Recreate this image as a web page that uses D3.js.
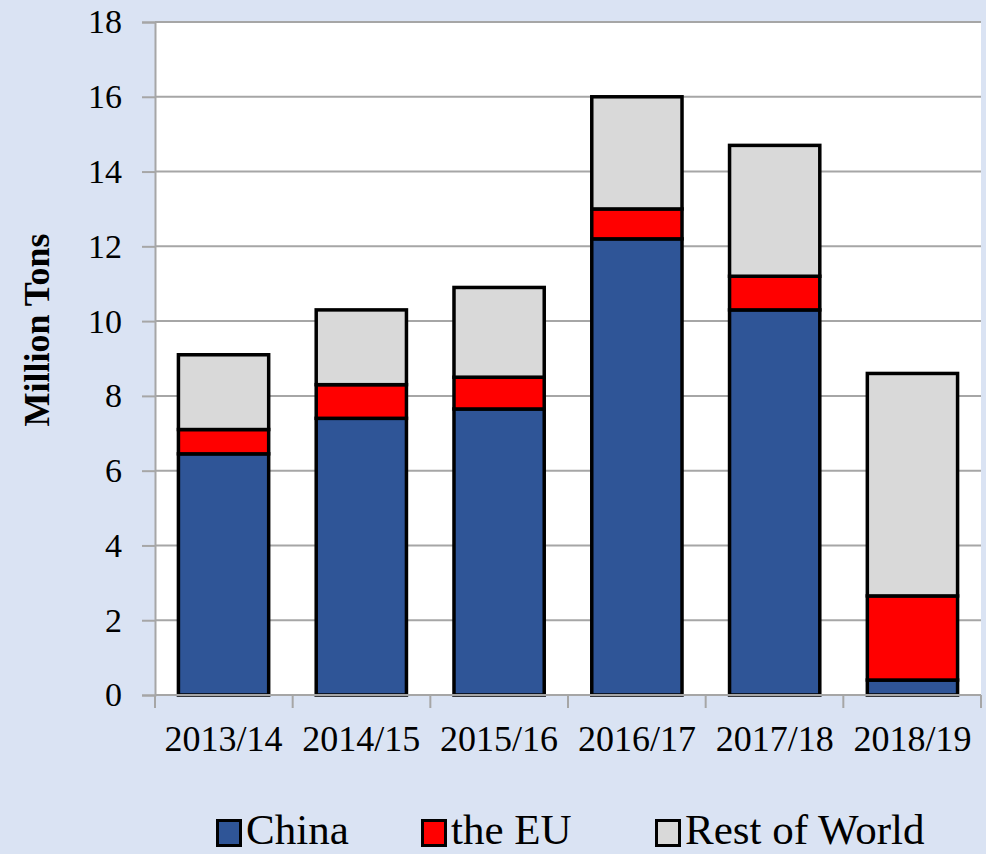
<!DOCTYPE html>
<html>
<head>
<meta charset="utf-8">
<script src="https://d3js.org/d3.v7.min.js"></script>
<style>
	body {
		margin: 0;
		background: #dae3f3;
	}
	svg {
		display: block;
		font-family: "Liberation Serif", "Times New Roman", serif;
	}
</style>
</head>
<body>
<script>

	// data (million tons)
	var seasons = ["2013/14", "2014/15", "2015/16", "2016/17", "2017/18", "2018/19"];
	var china = [6.45, 7.4, 7.65, 12.2, 10.3, 0.4];
	var eu = [0.65, 0.9, 0.85, 0.8, 0.9, 2.25];
	var rest = [2.0, 2.0, 2.4, 3.0, 3.5, 5.95];
	var yTicks = [0, 2, 4, 6, 8, 10, 12, 14, 16, 18];

	var seriesNames = ["China", "the EU", "Rest of World"];
	var colors = ["#2f5597", "#ff0000", "#d9d9d9"];

	var W = 986, H = 854;
	var margin = {top: 22, right: 5, bottom: 159, left: 155};
	var width = W - margin.left - margin.right,
		height = H - margin.top - margin.bottom;

	var svg = d3.select("body").append("svg")
		.attr("width", W)
		.attr("height", H);

	var g = svg.append("g")
		.attr("transform", "translate(" + margin.left + "," + margin.top + ")");

	var x = d3.scaleBand().domain(seasons).range([0, width]).paddingInner(0.345).paddingOuter(0.17);
	var y = d3.scaleLinear().domain([0, 18]).range([height, 0]);

	// plot area
	g.append("rect")
		.attr("width", width)
		.attr("height", height)
		.attr("fill", "#fff");

	// gridlines
	g.selectAll(".grid").data(yTicks.slice(1)).enter().append("line")
		.attr("x1", 0).attr("x2", width)
		.attr("y1", function(d) { return y(d); })
		.attr("y2", function(d) { return y(d); })
		.attr("stroke", "#a6a6a6")
		.attr("stroke-width", 2);

	// stacked bars
	var rows = seasons.map(function(s, i) {
		return {season: s, "China": china[i], "the EU": eu[i], "Rest of World": rest[i]};
	});
	var stacked = d3.stack().keys(seriesNames)(rows);

	g.selectAll(".layer").data(stacked).enter().append("g")
		.attr("fill", function(d, i) { return colors[i]; })
		.selectAll("rect").data(function(d) { return d; }).enter().append("rect")
		.attr("x", function(d) { return x(d.data.season); })
		.attr("y", function(d) { return y(d[1]); })
		.attr("width", x.bandwidth())
		.attr("height", function(d) { return y(d[0]) - y(d[1]); })
		.attr("stroke", "#000")
		.attr("stroke-width", 3.5);

	// y axis
	var yAxis = g.append("g")
		.call(d3.axisLeft(y).tickValues(yTicks).tickSize(13).tickPadding(20));
	yAxis.selectAll("line").attr("stroke", "#a6a6a6").attr("stroke-width", 2);
	yAxis.select(".domain").attr("stroke", "#a6a6a6").attr("stroke-width", 2);
	yAxis.selectAll("text")
		.attr("fill", "#000")
		.style("font-family", "Liberation Serif, serif")
		.style("font-size", "34px");

	// x axis (ticks at band edges)
	var xAxis = g.append("g").attr("transform", "translate(0," + height + ")");
	xAxis.append("line")
		.attr("x1", 0).attr("x2", width)
		.attr("stroke", "#a6a6a6").attr("stroke-width", 2);
	var edges = d3.range(seasons.length + 1).map(function(i) { return i * width / seasons.length; });
	xAxis.selectAll(".xt").data(edges).enter().append("line")
		.attr("x1", function(d) { return d; }).attr("x2", function(d) { return d; })
		.attr("y1", 0).attr("y2", 13)
		.attr("stroke", "#a6a6a6").attr("stroke-width", 2);
	xAxis.selectAll(".xl").data(seasons).enter().append("text")
		.attr("x", function(d) { return x(d) + x.bandwidth() / 2; })
		.attr("y", 56)
		.attr("text-anchor", "middle")
		.style("font-size", "36px")
		.text(function(d) { return d; });

	// y title
	svg.append("text")
		.attr("transform", "translate(49,330) rotate(-90)")
		.attr("text-anchor", "middle")
		.style("font-size", "36px")
		.style("font-weight", "bold")
		.text("Million Tons");

	// legend
	var legendX = [216, 421, 655];
	var legend = svg.selectAll(".legend").data(seriesNames).enter().append("g")
		.attr("transform", function(d, i) { return "translate(" + legendX[i] + ",819)"; });
	legend.append("rect")
		.attr("x", 1.5).attr("y", 1.5)
		.attr("width", 23).attr("height", 25)
		.attr("fill", function(d, i) { return colors[i]; })
		.attr("stroke", "#000")
		.attr("stroke-width", 3);
	legend.append("text")
		.attr("x", 30)
		.attr("y", 25)
		.style("font-size", "43px")
		.text(function(d) { return d; });

</script>
</body>
</html>
